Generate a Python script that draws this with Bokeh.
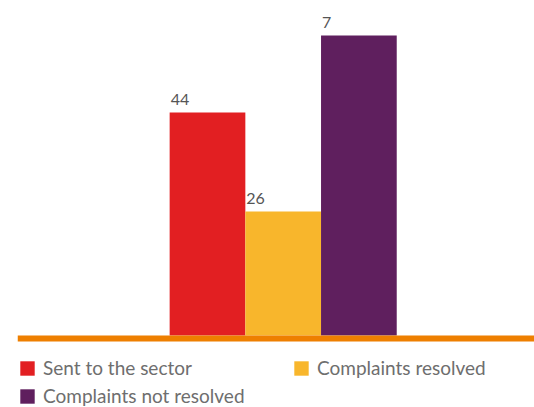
from bokeh.plotting import figure
from bokeh.models import ColumnDataSource, Range1d, BoxAnnotation, Legend, LegendItem
from bokeh.core.properties import value
from bokeh.embed import file_html
from bokeh.resources import INLINE

# Data
categories = ["Sent to the sector", "Complaints resolved", "Complaints not resolved"]
bar_heights = [74.3, 41.3, 100.0]
bar_labels = ["44", "26", "7"]
colors = ["#E21F22", "#F8B62C", "#5F1F5E"]

BAR_W = 1.0
xs = list(range(len(categories)))
src = ColumnDataSource(dict(
    x=xs,
    top=bar_heights,
    color=colors,
    cat=categories,
    lx=[x - BAR_W / 2 for x in xs],
    label=bar_labels,
))

p = figure(width=534, height=407, output_backend="svg", toolbar_location=None,
           x_range=Range1d(-2.51, 4.32), y_range=Range1d(-24, 111.67),
           min_border_left=17, min_border_right=0, min_border_top=0, min_border_bottom=0)
p.outline_line_color = None
p.xaxis.visible = False
p.yaxis.visible = False
p.xgrid.visible = False
p.ygrid.visible = False
p.background_fill_color = "white"
p.border_fill_color = "white"

renderers = []
for i in range(len(categories)):
    r = p.vbar(x=[xs[i]], top=[bar_heights[i]], bottom=0, width=BAR_W,
               fill_color=colors[i], line_color=None)
    renderers.append(r)

p.text(x="lx", y="top", text="label", source=src, x_offset=1, y_offset=-13,
       text_font=value("Lato"), text_font_size="16px", text_color="#555555",
       text_align="left", text_baseline="alphabetic")

# orange baseline
p.add_layout(BoxAnnotation(top=0, bottom=-2, fill_color="#EE7F00", fill_alpha=1.0,
                           line_color=None))

legend = Legend(items=[LegendItem(label=categories[i], renderers=[renderers[i]]) for i in range(3)],
                location=(1, 0), orientation="horizontal", ncols=2,
                glyph_width=18, glyph_height=18, label_height=18, label_width=244,
                label_standoff=7, spacing=5, padding=0, margin=0,
                border_line_color=None, background_fill_alpha=0,
                label_text_font="Lato", label_text_font_size="19px",
                label_text_color="#6E6E6E")
p.add_layout(legend)

open("out.html", "w").write(file_html(p, INLINE))
